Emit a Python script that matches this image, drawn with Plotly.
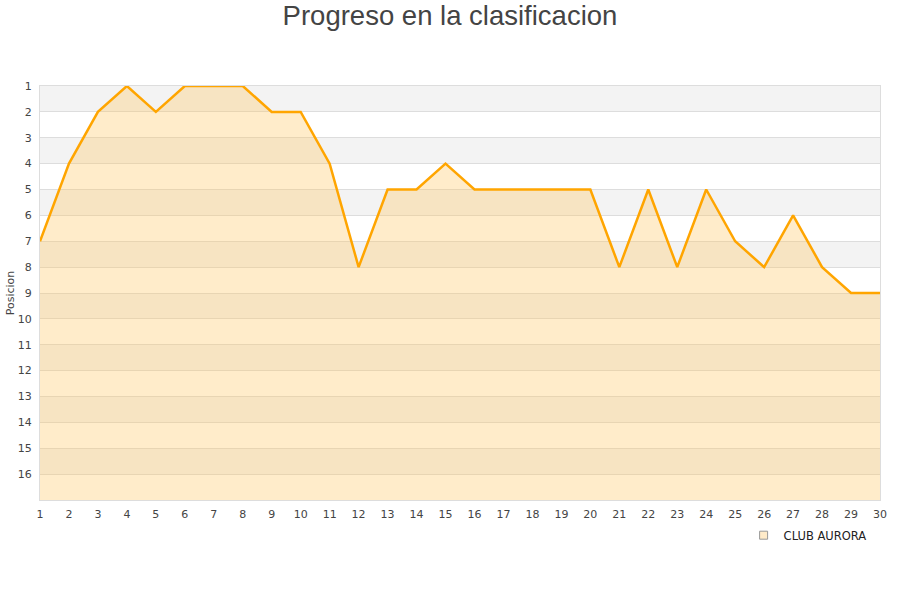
import plotly.graph_objects as go

jornadas = list(range(1, 31))
posiciones = [7, 4, 2, 1, 2, 1, 1, 1, 2, 2, 4, 8, 5, 5, 4, 5, 5, 5, 5, 5,
              8, 5, 8, 5, 7, 8, 6, 8, 9, 9]
equipo = "CLUB AURORA"
titulo = "Progreso en la clasificacion"
fondo_pos = 17

fig = go.Figure()

fig.add_trace(go.Scatter(x=jornadas, y=[fondo_pos] * len(jornadas), mode="lines",
                         line=dict(width=0), hoverinfo="skip", showlegend=False))
fig.add_trace(go.Scatter(x=jornadas, y=posiciones, mode="lines", fill="tonexty",
                         fillcolor="rgba(255,200,100,0.34)",
                         line=dict(color="#FFA500", width=2.5),
                         name=equipo, showlegend=False, cliponaxis=False))
fig.add_trace(go.Scatter(x=[None], y=[None], mode="markers", name=equipo,
                         marker=dict(symbol="square", size=8, color="#FFEBC9",
                                     line=dict(color="#999999", width=1))))

shapes = []
for y0 in range(1, 16, 2):
    shapes.append(dict(type="rect", xref="paper", yref="y", x0=0, x1=1,
                       y0=y0, y1=y0 + 1, fillcolor="#f3f3f3", line=dict(width=0),
                       layer="below"))

fig.update_layout(
    width=900, height=600,
    margin=dict(l=40, r=20, t=86, b=100, autoexpand=False),
    paper_bgcolor="white", plot_bgcolor="white",
    title=dict(text=titulo, x=0.5, xanchor="center", y=0.974, yanchor="middle",
               font=dict(family="Liberation Sans, Arial", size=27.5, color="#444444")),
    font=dict(family="DejaVu Sans", size=11, color="#444444"),
    shapes=shapes,
    showlegend=True,
    legend=dict(orientation="h", x=0.99, xanchor="right", y=-0.05, yanchor="top",
                font=dict(family="DejaVu Sans", size=11.5, color="#222222"),
                bgcolor="rgba(0,0,0,0)", itemwidth=30),
)
fig.update_xaxes(range=[1, 30], tickmode="array", tickvals=jornadas, automargin=False,
                 showgrid=False, showline=True, linecolor="#dddddd", linewidth=1,
                 mirror=True, ticks="", zeroline=False, ticklabelstandoff=4,
                 tickfont=dict(size=11, color="#444444"))
fig.update_yaxes(range=[fondo_pos, 1], tickmode="array", tickvals=list(range(1, 17)),
                 automargin=False, ticklabelstandoff=5,
                 showgrid=True, gridcolor="#dddddd", gridwidth=1,
                 showline=True, linecolor="#dddddd", linewidth=1, mirror=True,
                 ticks="", zeroline=False,
                 title=dict(text="Posicion", font=dict(size=11, color="#444444"), standoff=0),
                 tickfont=dict(size=11, color="#444444"))

fig.write_html("out.html", config={"displayModeBar": False},
               post_script="document.body.style.margin='0';")
